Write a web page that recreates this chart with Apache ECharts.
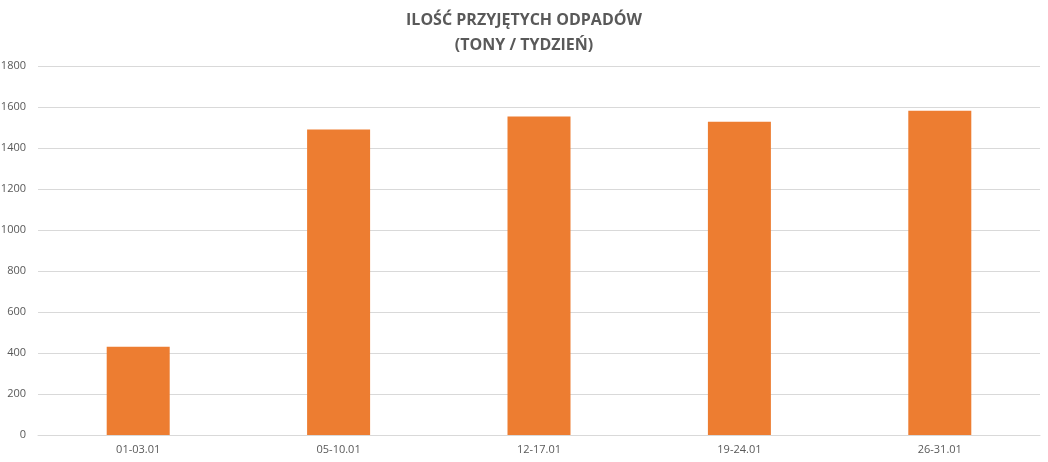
<!DOCTYPE html>
<html><head><meta charset="utf-8">
<script src="https://cdn.jsdelivr.net/npm/echarts@6/dist/echarts.min.js"></script>
<style>html,body{margin:0;padding:0;background:#fff}#c{width:1048px;height:462px}</style>
</head><body><div id="c"></div>
<script>
const categories = ['01-03.01','05-10.01','12-17.01','19-24.01','26-31.01'];
const values = [430, 1490, 1554, 1528, 1582];
const titleText = 'ILOŚĆ PRZYJĘTYCH ODPADÓW\n(TONY / TYDZIEŃ)';

const chart = echarts.init(document.getElementById('c'));
chart.setOption({
  animation: false,
  backgroundColor: '#fff',
  title: {
    text: titleText, left: 'center', top: 3,
    textStyle: {fontFamily: 'Open Sans', fontWeight: 'bold', fontSize: 16, color: '#595959', lineHeight: 25}
  },
  grid: {left: 38, right: 8, top: 66, bottom: 27, containLabel: false, outerBoundsMode: 'none'},
  xAxis: {
    type: 'category', data: categories,
    axisLine: {lineStyle: {color: '#d9d9d9'}},
    axisTick: {show: false},
    axisLabel: {color: '#595959', fontSize: 11, fontFamily: 'Open Sans', margin: 9}
  },
  yAxis: {
    type: 'value', min: 0, max: 1800, interval: 200,
    axisLine: {show: false}, axisTick: {show: false},
    splitLine: {lineStyle: {color: '#d9d9d9'}},
    axisLabel: {color: '#595959', fontSize: 11, fontFamily: 'Open Sans', margin: 12, formatter: v => String(v)}
  },
  series: [{
    type: 'bar', data: values, barWidth: 63,
    itemStyle: {color: '#ed7d31'}
  }]
});
</script></body></html>
